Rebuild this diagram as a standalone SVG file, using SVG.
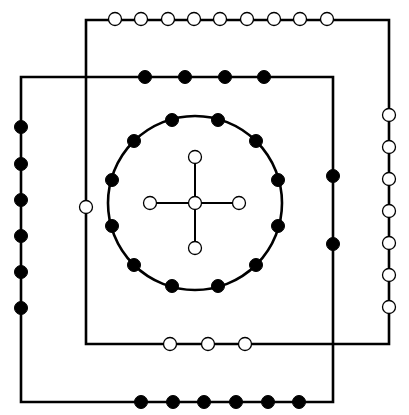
<svg xmlns="http://www.w3.org/2000/svg" width="409" height="415" viewBox="0 0 409 415">
<style>
.ln{fill:none;stroke:#000;stroke-width:2.6;stroke-linejoin:miter}
.thin{fill:none;stroke:#000;stroke-width:2}
.w{fill:#fff;stroke:#000;stroke-width:1.3}
.b{fill:#000;stroke:#000;stroke-width:1}
</style>
<rect width="409" height="415" fill="#fff"/>
<g id="connectors">
<path class="ln" d="M86,344 V20 H389 V344 Z"/>
<path class="ln" d="M21,402 V77 H333 V402 Z"/>
<circle class="ln" cx="195" cy="203" r="87"/>
<path class="thin" d="M195,157 V248 M150,203 H239"/>
</g>
<g id="top-white">
<circle class="w" cx="115" cy="19" r="6.5"/><circle class="w" cx="141" cy="19" r="6.5"/><circle class="w" cx="168" cy="19" r="6.5"/><circle class="w" cx="194" cy="19" r="6.5"/><circle class="w" cx="220" cy="19" r="6.5"/><circle class="w" cx="247" cy="19" r="6.5"/><circle class="w" cx="274" cy="19" r="6.5"/><circle class="w" cx="300" cy="19" r="6.5"/><circle class="w" cx="327" cy="19" r="6.5"/>
</g>
<g id="top-black">
<circle class="b" cx="145" cy="77" r="6.5"/><circle class="b" cx="185" cy="77" r="6.5"/><circle class="b" cx="225" cy="77" r="6.5"/><circle class="b" cx="264" cy="77" r="6.5"/>
</g>
<g id="left-black">
<circle class="b" cx="21" cy="127" r="6.5"/><circle class="b" cx="21" cy="164" r="6.5"/><circle class="b" cx="21" cy="200" r="6.5"/><circle class="b" cx="21" cy="236" r="6.5"/><circle class="b" cx="21" cy="272" r="6.5"/><circle class="b" cx="21" cy="308" r="6.5"/>
</g>
<g id="left-white">
<circle class="w" cx="86" cy="207" r="6.5"/>
</g>
<g id="right-white">
<circle class="w" cx="389" cy="115" r="6.5"/><circle class="w" cx="389" cy="147" r="6.5"/><circle class="w" cx="389" cy="179" r="6.5"/><circle class="w" cx="389" cy="211" r="6.5"/><circle class="w" cx="389" cy="243" r="6.5"/><circle class="w" cx="389" cy="275" r="6.5"/><circle class="w" cx="389" cy="307" r="6.5"/>
</g>
<g id="right-black">
<circle class="b" cx="333" cy="176" r="6.5"/><circle class="b" cx="333" cy="244" r="6.5"/>
</g>
<g id="bottom-white">
<circle class="w" cx="170" cy="344" r="6.5"/><circle class="w" cx="208" cy="344" r="6.5"/><circle class="w" cx="245" cy="344" r="6.5"/>
</g>
<g id="bottom-black">
<circle class="b" cx="141" cy="402" r="6.5"/><circle class="b" cx="173" cy="402" r="6.5"/><circle class="b" cx="204" cy="402" r="6.5"/><circle class="b" cx="236" cy="402" r="6.5"/><circle class="b" cx="268" cy="402" r="6.5"/><circle class="b" cx="299" cy="402" r="6.5"/>
</g>
<g id="circle-black">
<circle class="b" cx="172" cy="120" r="6.5"/><circle class="b" cx="218" cy="120" r="6.5"/><circle class="b" cx="256" cy="141" r="6.5"/><circle class="b" cx="278" cy="180" r="6.5"/><circle class="b" cx="278" cy="226" r="6.5"/><circle class="b" cx="256" cy="265" r="6.5"/><circle class="b" cx="218" cy="286" r="6.5"/><circle class="b" cx="172" cy="286" r="6.5"/><circle class="b" cx="134" cy="265" r="6.5"/><circle class="b" cx="112" cy="226" r="6.5"/><circle class="b" cx="112" cy="180" r="6.5"/><circle class="b" cx="134" cy="141" r="6.5"/>
</g>
<g id="center-white">
<circle class="w" cx="195" cy="157" r="6.5"/><circle class="w" cx="195" cy="248" r="6.5"/><circle class="w" cx="150" cy="203" r="6.5"/><circle class="w" cx="239" cy="203" r="6.5"/><circle class="w" cx="195" cy="203" r="6.5"/>
</g>
</svg>
